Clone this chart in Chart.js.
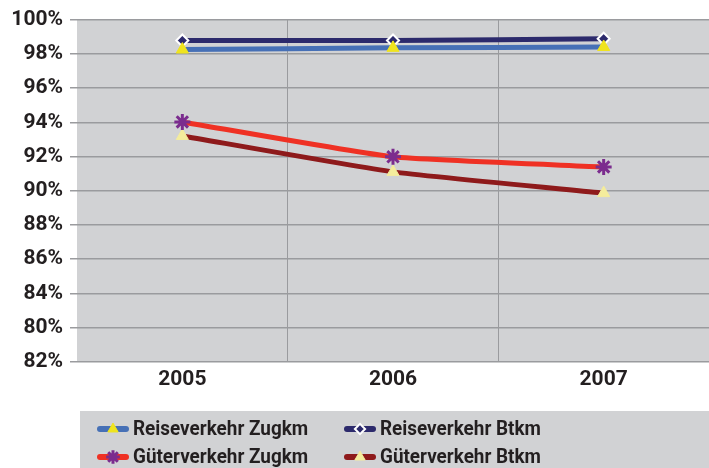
<!DOCTYPE html>
<html>
<head>
<meta charset="utf-8">
<script src="https://cdn.jsdelivr.net/npm/chart.js@4.4.0/dist/chart.umd.min.js"></script>
<style>
	body { margin: 0; background: #fff; }
	canvas { display: block; }
</style>
</head>
<body>
<canvas id="chart" width="709" height="468"></canvas>
<script>
const years = ["2005", "2006", "2007"];
// tick labels as printed on the axis, from bottom to top
const yTickLabels = ["82%", "80%", "84%", "86%", "88%", "90%", "92%", "94%", "96%", "98%", "100%"];

const reiseverkehrZugkm = [98.25, 98.35, 98.4];
const reiseverkehrBtkm = [98.78, 98.78, 98.88];
const gueterverkehrZugkm = [94.02, 91.98, 91.39];
const gueterverkehrBtkm = [93.2, 91.1, 89.86];

const fontFamily = "Roboto, 'DejaVu Sans', sans-serif";
const textColor = "#231f20";
const plotGray = "#d1d2d4";

const plotBackground = {
	id: "plotBackground",
	beforeDraw(chart) {
		const { ctx, chartArea } = chart;
		ctx.save();
		ctx.fillStyle = plotGray;
		ctx.fillRect(chartArea.left, chartArea.top, chartArea.right - chartArea.left, chartArea.bottom - chartArea.top);
		ctx.restore();
	},
};

// legend in a grey box, two columns
const boxLegend = {
	id: "boxLegend",
	afterDraw(chart) {
		const ctx = chart.ctx;
		ctx.save();
		ctx.fillStyle = plotGray;
		ctx.fillRect(80, 411, 629, 57);
		chart.data.datasets.forEach((ds, i) => {
			const x = i % 2 === 0 ? 100 : 347;
			const y = i < 2 ? 429 : 457;
			ctx.strokeStyle = ds.borderColor;
			ctx.lineWidth = 6;
			ctx.lineCap = "round";
			ctx.beginPath();
			ctx.moveTo(x, y);
			ctx.lineTo(x + 26, y);
			ctx.stroke();
			ctx.fillStyle = ds.pointBackgroundColor;
			ctx.strokeStyle = ds.pointBorderColor;
			ctx.lineWidth = ds.pointBorderWidth;
			ctx.lineCap = "butt";
			Chart.helpers.drawPoint(ctx, {
				pointStyle: ds.pointStyle,
				radius: ds.pointRadius * 0.85,
				rotation: 0,
				borderWidth: ds.pointBorderWidth,
			}, x + 13, y);
			ctx.save();
			ctx.translate(x + 33, y + 1);
			ctx.scale(0.9, 1);
			ctx.fillStyle = textColor;
			ctx.font = "bold 21px " + fontFamily;
			ctx.textBaseline = "middle";
			ctx.textAlign = "left";
			ctx.fillText(ds.label, 0, 0);
			ctx.restore();
		});
		ctx.restore();
	},
};

new Chart(document.getElementById("chart"), {
	type: "line",
	data: {
		labels: years,
		datasets: [
			{
				label: "Reiseverkehr Zugkm",
				data: reiseverkehrZugkm,
				borderColor: "#4670b6",
				pointStyle: "triangle",
				pointBackgroundColor: "#efe41f",
				pointBorderColor: "#efe41f",
				pointBorderWidth: 1,
				pointRadius: 7,
			},
			{
				label: "Reiseverkehr Btkm",
				data: reiseverkehrBtkm,
				borderColor: "#2c2a6c",
				pointStyle: "rectRot",
				pointBackgroundColor: "#2c2a6c",
				pointBorderColor: "#ffffff",
				pointBorderWidth: 2,
				pointRadius: 6,
			},
			{
				label: "Güterverkehr Zugkm",
				data: gueterverkehrZugkm,
				borderColor: "#ef3124",
				pointStyle: "star",
				pointBackgroundColor: "#7b2c8e",
				pointBorderColor: "#7b2c8e",
				pointBorderWidth: 3,
				pointRadius: 8,
			},
			{
				label: "Güterverkehr Btkm",
				data: gueterverkehrBtkm,
				borderColor: "#8e1a1b",
				pointStyle: "triangle",
				pointBackgroundColor: "#f4ec9c",
				pointBorderColor: "#f4ec9c",
				pointBorderWidth: 1,
				pointRadius: 7,
			},
		],
	},
	options: {
		responsive: false,
		animation: false,
		layout: { autoPadding: false, padding: { top: 10, right: 0, bottom: 71, left: 0 } },
		elements: {
			line: { borderWidth: 5, tension: 0.15 },
		},
		plugins: {
			legend: { display: false },
			tooltip: { enabled: false },
		},
		scales: {
			x: {
				offset: true,
				grid: {
					offset: true,
					drawTicks: false,
					color: ctx => (ctx.index === 0 ? "rgba(0,0,0,0)" : "#9a9b9e"),
					lineWidth: 1,
				},
				border: { display: false },
				ticks: {
					padding: 5,
					color: textColor,
					font: { family: fontFamily, size: 21, weight: "bold" },
				},
			},
			y: {
				min: 80,
				max: 100,
				afterFit: scale => { scale.width = 77; },
				grid: {
					color: "#9a9b9e",
					lineWidth: 1.5,
					tickLength: 7,
				},
				border: { display: false },
				ticks: {
					stepSize: 2,
					padding: 7,
					color: textColor,
					font: { family: fontFamily, size: 21, weight: "bold" },
					callback: (value, index) => yTickLabels[index],
				},
			},
		},
	},
	plugins: [plotBackground, boxLegend],
});
</script>
</body>
</html>
